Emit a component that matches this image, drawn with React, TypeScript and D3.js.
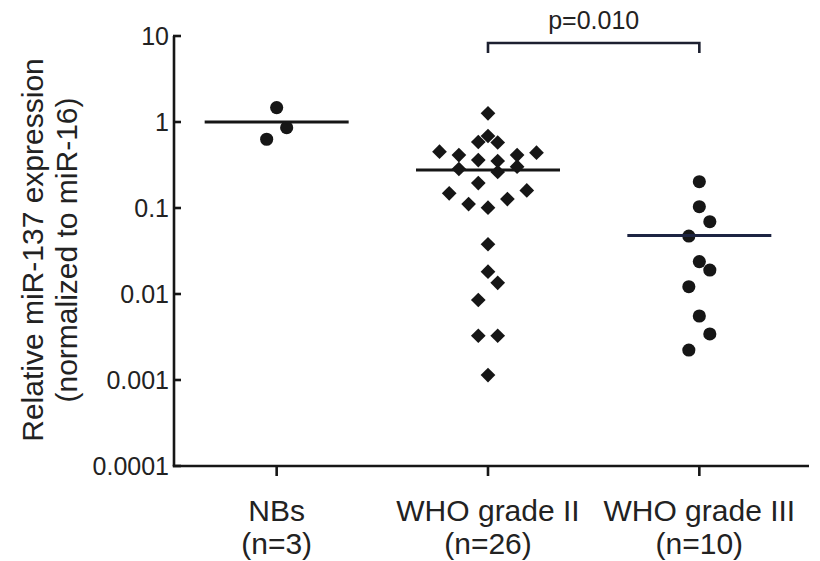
import React from "react";
import * as d3 from "d3";

const categories = ["NBs", "WHO grade II", "WHO grade III"];
const nLabels = ["(n=3)", "(n=26)", "(n=10)"];

const nbValues = [1.47, 0.86, 0.63];
const nbJitter = [0, 1, -1];

const g2Values = [
  1.26, 0.687, 0.585, 0.578, 0.452, 0.44, 0.413, 0.413, 0.361, 0.352, 0.284, 0.262, 0.302,
  0.195, 0.148, 0.16, 0.111, 0.127, 0.101, 0.0379, 0.0182, 0.0135, 0.00851, 0.00327, 0.00327, 0.00114,
];
const g2Jitter = [0, 0, -1, 1, -5, 5, -3, 3, -1, 1, -3, 1, 3, -1, -4, 4, -2, 2, 0, 0, 0, 1, -1, -1, 1, 0];

const g3Values = [0.202, 0.1035, 0.0693, 0.0472, 0.0238, 0.019, 0.01216, 0.00555, 0.00343, 0.00223];
const g3Jitter = [0, 0, 1, -1, 0, 1, -1, 0, 1, -1];

const centerLines = [1.0, 0.277, 0.048];

const yTicks = [10, 1, 0.1, 0.01, 0.001, 0.0001];
const yTickLabels = ["10", "1", "0.1", "0.01", "0.001", "0.0001"];

const yLabel1 = "Relative miR-137 expression";
const yLabel2 = "(normalized to miR-16)";
const pLabel = "p=0.010";

const FONT = "'Liberation Sans', Arial, Helvetica, sans-serif";
const INK = "#161616";
const TXT = "#222";

export default function App() {
  const W = 820;
  const H = 561;
  const axisLeft = 174;
  const axisRight = 809;
  const y = d3.scaleLog().domain([0.0001, 10]).range([466, 36]);
  const x = d3.scalePoint<string>().domain(categories).range([171, 805]).padding(0.5);

  const square = d3.symbol().type(d3.symbolSquare).size(108)() as string;
  const circle = d3.symbol().type(d3.symbolCircle).size(135)() as string;

  const groups = [
    { cat: categories[0], values: nbValues, jitter: nbJitter, unit: 10, shape: "circle" },
    { cat: categories[1], values: g2Values, jitter: g2Jitter, unit: 9.7, shape: "diamond" },
    { cat: categories[2], values: g3Values, jitter: g3Jitter, unit: 10.5, shape: "circle" },
  ];
  const lineColors = [INK, INK, "#1d2442"];

  const x2 = x(categories[1])!;
  const x3 = x(categories[2])!;

  return (
    <svg width={W} height={H} style={{ position: "absolute", left: 0, top: 0, background: "#fff" }}>
      <rect width={W} height={H} fill="#fff" />
      {/* y axis */}
      <line x1={axisLeft} x2={axisLeft} y1={y(10)} y2={y(0.0001)} stroke={INK} strokeWidth={2.6} />
      {yTicks.map((t, i) => (
        <g key={i}>
          <line x1={axisLeft - 1} x2={axisLeft + 7} y1={y(t)} y2={y(t)} stroke={INK} strokeWidth={2.6} />
          <text
            x={axisLeft - 5}
            y={y(t)}
            dy="0.36em"
            textAnchor="end"
            fontFamily={FONT}
            fontSize={25}
            fill={TXT}
          >
            {yTickLabels[i]}
          </text>
        </g>
      ))}
      {/* x axis */}
      <line x1={axisLeft - 1.3} x2={axisRight} y1={y(0.0001)} y2={y(0.0001)} stroke={INK} strokeWidth={2.6} />
      {categories.map((c, i) => (
        <g key={c}>
          <line x1={x(c)!} x2={x(c)!} y1={y(0.0001)} y2={y(0.0001) + 10} stroke={INK} strokeWidth={2.6} />
          <text x={x(c)!} y={521} textAnchor="middle" fontFamily={FONT} fontSize={30} fill={TXT}>
            {c}
          </text>
          <text x={x(c)!} y={554} textAnchor="middle" fontFamily={FONT} fontSize={30} fill={TXT}>
            {nLabels[i]}
          </text>
        </g>
      ))}
      {/* y label */}
      <g transform={`translate(0, 250) rotate(-90)`}>
        <text x={0} y={43} textAnchor="middle" fontFamily={FONT} fontSize={30} fill={TXT}>
          {yLabel1}
        </text>
        <text x={0} y={77} textAnchor="middle" fontFamily={FONT} fontSize={30} fill={TXT}>
          {yLabel2}
        </text>
      </g>
      {/* points */}
      {groups.map((g, gi) =>
        g.values.map((v, i) => {
          const cx = x(g.cat)! + g.jitter[i] * g.unit;
          const cy = y(v);
          return g.shape === "diamond" ? (
            <path key={`${gi}-${i}`} d={square} transform={`translate(${cx},${cy}) rotate(45)`} fill={INK} />
          ) : (
            <path key={`${gi}-${i}`} d={circle} transform={`translate(${cx},${cy})`} fill={INK} />
          );
        })
      )}
      {/* center lines */}
      {categories.map((c, i) => (
        <line
          key={`m${i}`}
          x1={x(c)! - 72}
          x2={x(c)! + 72}
          y1={y(centerLines[i])}
          y2={y(centerLines[i])}
          stroke={lineColors[i]}
          strokeWidth={3}
        />
      ))}
      {/* significance bracket */}
      <path
        d={`M${x2},${53} V${43} H${x3} V${53}`}
        fill="none"
        stroke="#1d2030"
        strokeWidth={2.6}
      />
      <text x={(x2 + x3) / 2} y={29} textAnchor="middle" fontFamily={FONT} fontSize={25} fill={TXT}>
        {pLabel}
      </text>
    </svg>
  );
}
